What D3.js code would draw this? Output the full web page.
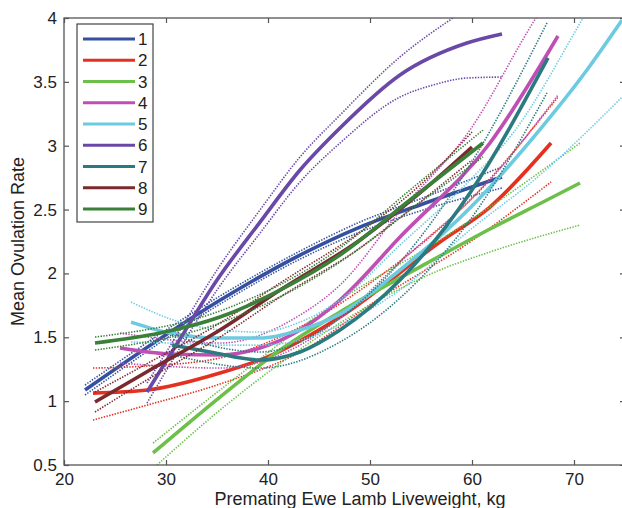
<!DOCTYPE html>
<html><head><meta charset="utf-8">
<script src="https://cdn.jsdelivr.net/npm/d3@7"></script>
<style>body{margin:0;background:#fff}svg{display:block}text{font-family:"Liberation Sans",Arial,sans-serif;fill:#222}</style>
</head><body><div id="chart"></div>
<script>
const seriesNames = ["1","2","3","4","5","6","7","8","9"];
const seriesColors = ["#3650a0","#e53020","#6cc04a","#c04fb4","#6ccbe0","#6a48a8","#2a7a80","#7a2a2e","#3a8038"];
const xTicks = [20,30,40,50,60,70];
const yTicks = [0.5,1,1.5,2,2.5,3,3.5,4];

const s1Main  = [[22.06,1.087],[35.29,1.79],[43.14,2.144],[49.02,2.363],[54.9,2.536],[62.94,2.755]];
const s1Upper = [[22.06,1.126],[35.29,1.823],[43.14,2.175],[49.02,2.403],[54.9,2.583],[62.94,2.834]];
const s1Lower = [[22.06,1.048],[35.29,1.76],[43.14,2.112],[49.02,2.324],[54.9,2.489],[62.94,2.669]];

const s2Main  = [[22.84,1.063],[28.14,1.087],[35.29,1.22],[39.9,1.345],[47.06,1.659],[56.86,2.246],[61.76,2.52],[67.75,3.021]];
const s2Upper = [[22.84,1.259],[28.14,1.275],[35.29,1.338],[43.14,1.58],[50.98,1.98],[59.8,2.575],[68.43,3.381]];
const s2Lower = [[22.84,0.852],[28.14,0.969],[35.29,1.134],[43.14,1.384],[50.98,1.807],[59.8,2.246],[67.75,2.716]];

const s3Main  = [[28.73,0.594],[35.29,1.032],[41.18,1.40],[47.06,1.698],[55.59,2.081],[61.76,2.348],[67.35,2.575],[70.59,2.708]];
const s3Upper = [[28.73,0.672],[35.29,1.087],[47.06,1.792],[56.86,2.262],[61.76,2.52],[70.59,3.021]];
const s3Lower = [[29.12,0.50],[35.29,0.93],[47.06,1.612],[56.86,2.027],[61.76,2.168],[70.59,2.379]];

const s4Main  = [[25.49,1.416],[30.39,1.369],[35.29,1.361],[39.22,1.416],[43.14,1.557],[47.06,1.792],[52.94,2.285],[61.76,3.021],[68.43,3.859]];
const s4Upper = [[25.49,1.533],[35.29,1.455],[43.14,1.674],[47.06,1.909],[52.94,2.489],[59.8,3.123],[66.27,4.0],[68.43,4.258]];
const s4Lower = [[25.49,1.298],[35.29,1.259],[43.14,1.439],[47.06,1.651],[52.94,2.089],[61.76,2.731],[68.43,3.397]];

const s5Main  = [[26.57,1.619],[30.39,1.533],[35.29,1.494],[39.22,1.494],[43.14,1.557],[47.06,1.682],[52.94,2.027],[59.8,2.512],[66.37,3.099],[71.27,3.593],[74.71,3.984]];
const s5Upper = [[26.57,1.776],[31.37,1.619],[35.29,1.557],[39.22,1.541],[43.14,1.619],[47.06,1.792],[52.94,2.222],[59.8,2.731],[64.02,3.099],[70.88,4.0],[74.71,4.532]];
const s5Lower = [[26.57,1.463],[30.39,1.455],[35.29,1.439],[39.22,1.439],[43.14,1.478],[47.06,1.596],[52.94,1.87],[59.8,2.34],[66.67,2.771],[74.71,3.381]];

const s6Main  = [[28.14,1.071],[31.37,1.486],[35.0,1.948],[39.2,2.40],[43.14,2.81],[47.06,3.139],[52.94,3.554],[59.5,3.804],[62.94,3.875]];
const s6Upper = [[28.14,1.142],[31.37,1.557],[35.0,2.027],[39.22,2.497],[43.14,2.912],[47.06,3.24],[52.94,3.695],[58.14,4.0],[62.94,4.235]];
const s6Lower = [[28.14,0.985],[31.37,1.416],[35.0,1.87],[39.22,2.316],[43.14,2.716],[47.06,3.021],[52.94,3.381],[56.18,3.475],[59.51,3.53],[63.04,3.538]];

const s7Main  = [[30.59,1.439],[34.31,1.385],[39.22,1.322],[43.14,1.385],[47.06,1.557],[52.94,1.948],[59.8,2.63],[67.45,3.687]];
const s7Upper = [[30.59,1.518],[39.22,1.385],[47.06,1.651],[52.94,2.089],[59.8,2.849],[67.35,3.961]];
const s7Lower = [[30.59,1.361],[39.22,1.259],[47.06,1.463],[52.94,1.807],[59.8,2.418],[67.35,3.413]];

const s8Main  = [[23.04,0.993],[28.43,1.244],[35.29,1.557],[41.18,1.87],[49.02,2.262],[54.9,2.63],[60.0,2.99]];
const s8Upper = [[23.04,1.071],[28.43,1.306],[35.29,1.612],[41.18,1.925],[49.02,2.324],[54.9,2.692],[60.0,3.107]];
const s8Lower = [[23.04,0.915],[28.43,1.181],[35.29,1.502],[41.18,1.815],[49.02,2.199],[54.9,2.559],[60.0,2.888]];

const s9Main  = [[23.04,1.455],[29.41,1.533],[35.29,1.659],[41.18,1.87],[47.06,2.144],[53.92,2.575],[61.08,3.021]];
const s9Upper = [[23.04,1.502],[35.29,1.706],[47.06,2.199],[53.92,2.653],[61.08,3.123]];
const s9Lower = [[23.04,1.40],[35.29,1.612],[47.06,2.089],[53.92,2.497],[61.08,2.912]];

const mains  = [s1Main,s2Main,s3Main,s4Main,s5Main,s6Main,s7Main,s8Main,s9Main];
const uppers = [s1Upper,s2Upper,s3Upper,s4Upper,s5Upper,s6Upper,s7Upper,s8Upper,s9Upper];
const lowers = [s1Lower,s2Lower,s3Lower,s4Lower,s5Lower,s6Lower,s7Lower,s8Lower,s9Lower];

const W = 622, H = 508;
const pL = 64, pR = 625, pT = 18, pB = 465;
const x = d3.scaleLinear().domain([20,75]).range([pL,pR]);
const y = d3.scaleLinear().domain([0.5,4]).range([pB,pT]);

const svg = d3.select("#chart").append("svg").attr("width",W).attr("height",H);
svg.append("defs").append("clipPath").attr("id","clip")
  .append("rect").attr("x",pL).attr("y",pT).attr("width",pR-pL).attr("height",pB-pT);

const line = d3.line().x(d=>x(d[0])).y(d=>y(d[1])).curve(d3.curveMonotoneX);
const plot = svg.append("g").attr("clip-path","url(#clip)");

mains.forEach((m,i)=>{
  const c = seriesColors[i];
  plot.append("path").attr("d",line(m)).attr("fill","none").attr("stroke",c).attr("stroke-width",3.6).attr("stroke-linecap","butt");
  [uppers[i],lowers[i]].forEach(ci=>{
    plot.append("path").attr("d",line(ci)).attr("fill","none").attr("stroke",c).attr("stroke-width",1.6).attr("stroke-dasharray","1.4,1.4");
  });
});

const axisColor = "#555";
const tl = 5;
svg.append("rect").attr("x",pL).attr("y",pT).attr("width",pR-pL).attr("height",pB-pT)
  .attr("fill","none").attr("stroke",axisColor).attr("stroke-width",1.3);
const xa = d3.axisBottom(x).tickValues(xTicks).tickSizeInner(-tl).tickSizeOuter(0).tickPadding(10).tickFormat(d3.format("d"));
const gx = svg.append("g").attr("transform",`translate(0,${pB})`).call(xa);
const xt = d3.axisTop(x).tickValues(xTicks).tickSizeInner(-tl).tickSizeOuter(0).tickFormat("");
const gxt = svg.append("g").attr("transform",`translate(0,${pT})`).call(xt);
const ya = d3.axisLeft(y).tickValues(yTicks).tickSizeInner(-tl).tickSizeOuter(0).tickPadding(8).tickFormat(d=>String(d));
const gy = svg.append("g").attr("transform",`translate(${pL},0)`).call(ya);
const yr = d3.axisRight(y).tickValues(yTicks).tickSizeInner(-tl).tickSizeOuter(0).tickFormat("");
const gyr = svg.append("g").attr("transform",`translate(${pR},0)`).call(yr);
[gx,gxt,gy,gyr].forEach(g=>{
  g.select(".domain").remove();
  g.selectAll(".tick line").attr("stroke",axisColor).attr("stroke-width",1.2);
  g.selectAll("text").attr("font-size",17).attr("fill","#222").attr("font-family","Liberation Sans, Arial, sans-serif");
});
gx.selectAll(".tick text").attr("dy","0.71em").attr("y",8);
gy.selectAll(".tick text").attr("x",-7);

svg.append("text").attr("x",360).attr("y",505).attr("text-anchor","middle").attr("font-size",18).text("Premating Ewe Lamb Liveweight, kg");
svg.append("text").attr("transform",`translate(24,${(pT+pB)/2}) rotate(-90)`).attr("text-anchor","middle").attr("font-size",18).text("Mean Ovulation Rate");

const lg = svg.append("g");
lg.append("rect").attr("x",77).attr("y",24).attr("width",76).attr("height",198).attr("fill","#fff").attr("stroke","#444").attr("stroke-width",1.2);
seriesNames.forEach((n,i)=>{
  const yy = 39 + i*21.25;
  lg.append("line").attr("x1",83).attr("x2",135).attr("y1",yy).attr("y2",yy).attr("stroke",seriesColors[i]).attr("stroke-width",3.2);
  lg.append("text").attr("x",138).attr("y",yy).attr("dy","0.36em").attr("font-size",17).text(n);
});
</script></body></html>
